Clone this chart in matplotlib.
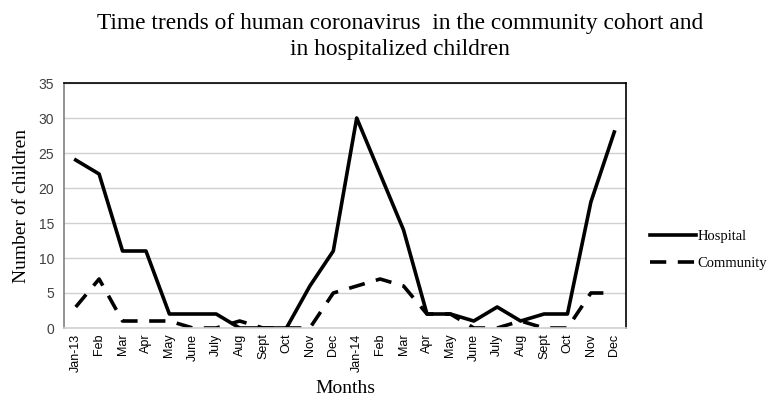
import numpy as np
import matplotlib.pyplot as plt

months = ['Jan-13', 'Feb', 'Mar', 'Apr', 'May', 'June', 'July', 'Aug', 'Sept', 'Oct', 'Nov', 'Dec',
          'Jan-14', 'Feb', 'Mar', 'Apr', 'May', 'June', 'July', 'Aug', 'Sept', 'Oct', 'Nov', 'Dec']
hospital = [24, 22, 11, 11, 2, 2, 2, 0, 0, 0, 6, 11, 30, 22, 14, 2, 2, 1, 3, 1, 2, 2, 18, 28]
community = [3, 7, 1, 1, 1, 0, 0, 1, 0, 0, 0, 5, 6, 7, 6, 2, 2, 0, 0, 1, 0, 0, 5, 5]

serif = 'Liberation Serif'
sans = 'Liberation Sans'

fig = plt.figure(figsize=(7.76, 4.04), dpi=100)
ax = fig.add_axes([64 / 776, 1 - 328 / 404, (626 - 64) / 776, (328 - 83) / 404])

x = np.arange(len(months))
ax.plot(x, hospital, color='black', lw=2.6, label='Hospital')
ax.plot(x, community, color='black', lw=2.6, dashes=(4.5, 3.2), label='Community')

ax.set_xlim(-0.5, len(months) - 0.5)
ax.set_ylim(0, 35)
ax.set_yticks(range(0, 36, 5))
ax.yaxis.grid(True, color='#d0d0d0', lw=1)
ax.set_axisbelow(True)
ax.set_xticks(x)
ax.set_xticklabels(months, rotation=90, fontsize=9, family=sans)
ax.tick_params(axis='y', labelsize=10, labelcolor='#404040', length=0, pad=7)
ax.tick_params(axis='x', length=0, pad=4)
for lab in ax.get_yticklabels():
    lab.set_family(sans)

ax.spines['top'].set_color('black')
ax.spines['right'].set_color('black')
ax.spines['left'].set_color('#808080')
ax.spines['bottom'].set_color('#d0d0d0')
for s in ax.spines.values():
    s.set_linewidth(1.2)

ax.set_xlabel('Months', family=serif, fontsize=14, labelpad=6)
ax.set_ylabel('Number of children', family=serif, fontsize=14, labelpad=6)

fig.text(0.515, 0.968, 'Time trends of human coronavirus  in the community cohort and\nin hospitalized children',
         ha='center', va='top', family=serif, fontsize=16.8, linespacing=1.3)

ax.legend(loc='center left', bbox_to_anchor=(1.02, 0.32), frameon=False,
          prop={'family': serif, 'size': 10.5}, handlelength=3.1, handletextpad=0.15,
          labelspacing=0.95)

fig.savefig('out.png', dpi=100)
